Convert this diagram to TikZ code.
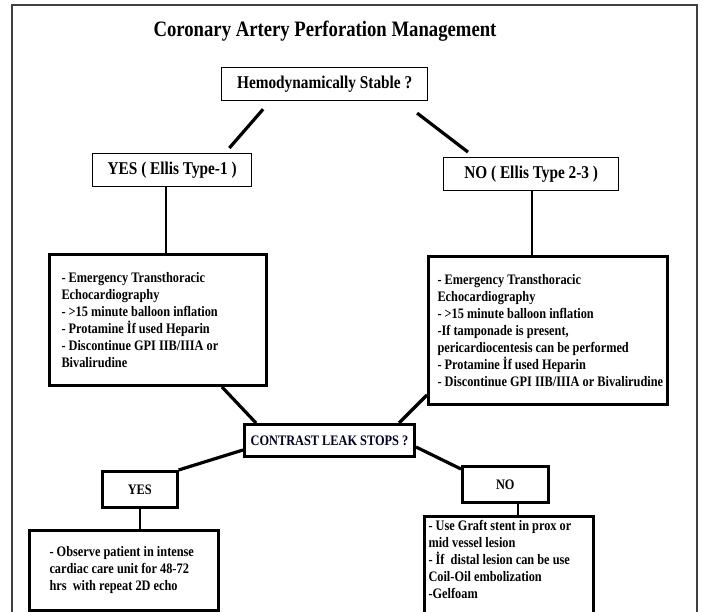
\documentclass[tikz,border=0pt]{standalone}
\usepackage{fontspec}
\setmainfont{Liberation Serif}[FakeStretch=0.85]
\usetikzlibrary{calc}
\begin{document}
\begin{tikzpicture}[x=1pt,y=-1pt,
  thinbox/.style={draw, line width=1.3pt, inner sep=0pt, anchor=north west, font=\fontsize{18}{20}\selectfont\bfseries},
  bigbox/.style={draw, line width=3pt, inner ysep=0pt, anchor=north west, align=flush left, font=\fontsize{14.5}{17}\selectfont\bfseries},
  midbox/.style={draw, line width=2.6pt, inner sep=0pt, anchor=north west, font=\fontsize{14.5}{17}\selectfont\bfseries},
  conn/.style={line width=3.2pt},
  vconn/.style={line width=2.3pt},
  frameline/.style={line width=1.4pt, draw=black!75}]
\useasboundingbox (0,0) rectangle (703,612);
\clip (0,0) rectangle (703,612);
\draw[frameline] (12,614) -- (12,5) -- (697,5) -- (697,614);

\node[font=\fontsize{22}{24}\selectfont\bfseries] (title) at (325,31) {Coronary Artery Perforation Management};

\node[thinbox, minimum width=206pt, minimum height=33pt] (hemo) at (221,67) {Hemodynamically Stable ?};
\node[thinbox, minimum width=159pt, minimum height=33pt] (yes) at (92,153) {YES ( Ellis Type-1 )};
\node[thinbox, minimum width=175pt, minimum height=33pt] (no) at (443,157) {NO ( Ellis Type 2-3 )};

\node[bigbox, inner xsep=12pt, text width=193pt, minimum height=131pt] (b1) at (48,253)
 {- Emergency Transthoracic\\ Echocardiography\\ - >15 minute balloon inflation\\ - Protamine İf used Heparin\\ - Discontinue GPI IIB/IIIA or\\ Bivalirudine};
\node[bigbox, inner xsep=9pt, text width=221pt, minimum height=148pt] (b2) at (427,255)
 {- Emergency Transthoracic\\ Echocardiography\\ - >15 minute balloon inflation\\ -If tamponade is present,\\ pericardiocentesis can be performed\\ - Protamine İf used Heparin\\ \mbox{- Discontinue GPI IIB/IIIA or Bivalirudine}};

\node[midbox, line width=3pt, minimum width=170pt, minimum height=32pt, text=black!85!blue] (contrast) at (243,423) {CONTRAST LEAK STOPS ?};
\node[midbox, minimum width=75pt, minimum height=36pt] (yes2) at (101,470) {YES};
\node[midbox, minimum width=86pt, minimum height=36pt] (no2) at (461,465) {NO};

\node[bigbox, inner xsep=20pt, text width=149pt, minimum height=80pt] (b3) at (28,529)
 {- Observe patient in intense\\ cardiac care unit for 48-72\\ hrs~ with repeat 2D echo};
\node[bigbox, inner xsep=4pt, minimum width=169pt] (b4) at (423,515)
 {\parbox[c][115pt][t]{161pt}{\raggedright\vspace*{4pt}- Use Graft stent in prox or\\ mid vessel lesion\\ - İf~ distal lesion can be use\\ Coil-Oil embolization\\ -Gelfoam}};

% connectors
\draw[conn, shorten <=10.5pt, shorten >=6.6pt] ([xshift=49pt]hemo.south west) -- ([xshift=133pt]yes.north west);
\draw[conn, shorten <=19.4pt, shorten >=8.1pt] ([xshift=180.7pt]hemo.south west) -- ([xshift=31.4pt]no.north west);
\draw[vconn] ([xshift=74pt]yes.south west) -- ([xshift=74pt]yes.south west |- b1.north);
\draw[vconn] ([xshift=89pt]no.south west) -- ([xshift=89pt]no.south west |- b2.north);
\draw[conn] ([xshift=174pt]b1.south west) -- ([xshift=13pt]contrast.north west);
\draw[conn] ([yshift=11pt]b2.south west) -- ([xshift=-17pt]contrast.north east);
\draw[conn] ([yshift=8pt]contrast.south west) -- (yes2.north east);
\draw[conn] ([yshift=11pt]contrast.south east) -- ([yshift=-4pt]no2.north west);
\draw[vconn] ([xshift=39pt]yes2.south west) -- ([xshift=39pt]yes2.south west |- b3.north);
\draw[vconn] ([xshift=57pt]no2.south west) -- ([xshift=57pt]no2.south west |- b4.north);
\end{tikzpicture}
\end{document}
